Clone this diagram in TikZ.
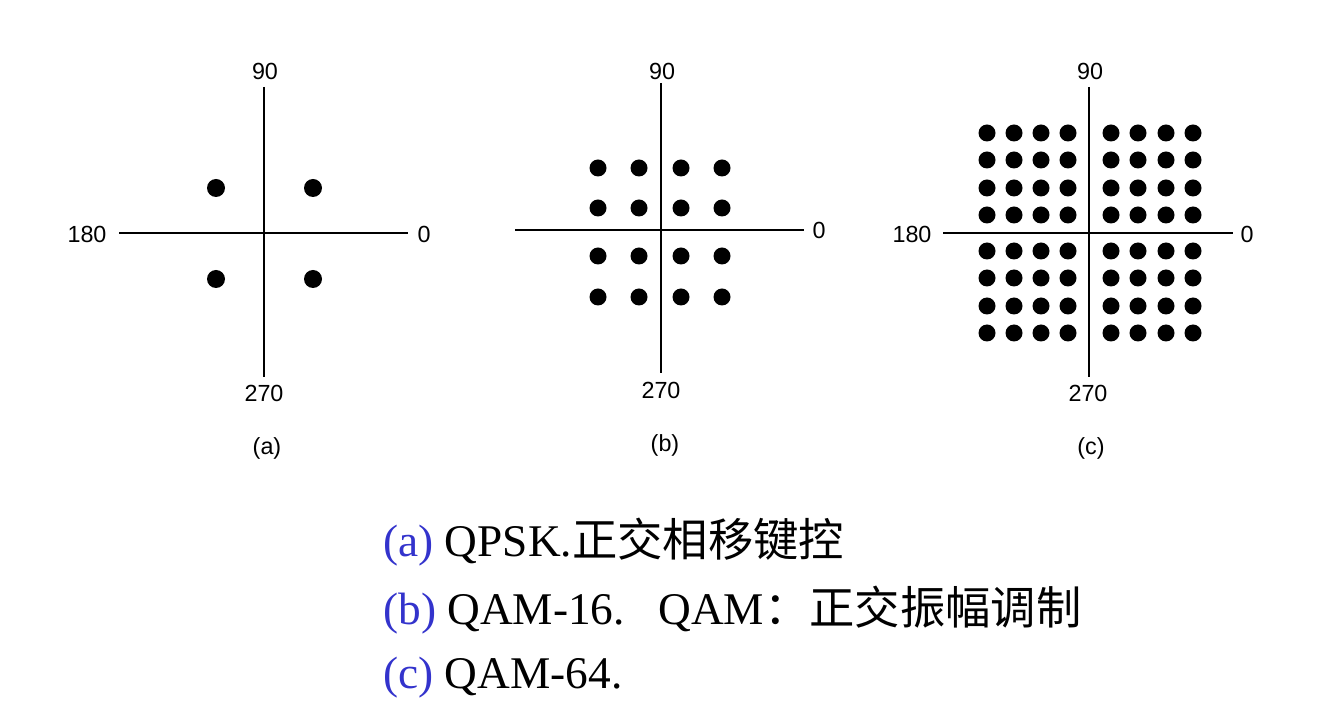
\documentclass[tikz,border=0pt]{standalone}
\usepackage{fontspec}
\setmainfont{Liberation Serif}
\newfontfamily\lblfont{Liberation Sans}
\newfontfamily\cjkfont{Noto Sans CJK SC}
\definecolor{capblue}{RGB}{51,51,204}
\begin{document}
\begin{tikzpicture}[x=0.75pt,y=-0.75pt,
  axis/.style={line width=1.5pt},
  dot/.style={fill=black},
  lbl/.style={font=\lblfont\fontsize{17.5}{20}\selectfont, inner sep=0pt},
  captext/.style={font=\fontsize{34}{40}\selectfont, anchor=base west, inner sep=0pt}]
\useasboundingbox (0,0) rectangle (1318,705);
% ---------- (a) ----------
\coordinate (aT) at (264,87); \coordinate (aB) at (264,377);
\coordinate (aL) at (119,233); \coordinate (aR) at (408,233);
\draw[axis] (aT) -- (aB);
\draw[axis] (aL) -- (aR);
\node[lbl] (a90) at (265,71) {90};
\node[lbl] (a180) at (87,234) {180};
\node[lbl] (a0) at (424,234) {0};
\node[lbl] (a270) at (264,393) {270};
\node[lbl] (acap) at (267,448) {(a)};
\foreach \x in {216,313} \foreach \y in {188,279} \fill[dot] (\x,\y) circle[radius=9];
% ---------- (b) ----------
\coordinate (bT) at (661,83); \coordinate (bB) at (661,373);
\coordinate (bL) at (515,230); \coordinate (bR) at (804,230);
\draw[axis] (bT) -- (bB);
\draw[axis] (bL) -- (bR);
\node[lbl] (b90) at (662,71) {90};
\node[lbl] (b0) at (819,230) {0};
\node[lbl] (b270) at (661,390) {270};
\node[lbl] (bcap) at (665,445) {(b)};
\foreach \x in {598,639,681,722} \foreach \y in {168,208,256,297} \fill[dot] (\x,\y) circle[radius=8.5];
% ---------- (c) ----------
\coordinate (cT) at (1089,87); \coordinate (cB) at (1089,377);
\coordinate (cL) at (943,233); \coordinate (cR) at (1233,233);
\draw[axis] (cT) -- (cB);
\draw[axis] (cL) -- (cR);
\node[lbl] (c90) at (1090,71) {90};
\node[lbl] (c180) at (912,234) {180};
\node[lbl] (c0) at (1247,234) {0};
\node[lbl] (c270) at (1088,393) {270};
\node[lbl] (ccap) at (1091,448) {(c)};
\foreach \x in {987,1014,1041,1068,1111,1138,1166,1193}
  \foreach \y in {133,160,188,215,251,278,306,333}
    \fill[dot] (\x,\y) circle[radius=8.5];
% ---------- captions ----------
\node[captext] (l1) at (383,557) {\textcolor{capblue}{(a)} QPSK.{\cjkfont 正交相移键控}};
\node[captext] (l2) at (383,624) {\textcolor{capblue}{(b)} QAM-16.\hspace{25pt}QAM{\cjkfont ：正交振幅调制}};
\node[captext] (l3) at (383,689) {\textcolor{capblue}{(c)} QAM-64.};
\end{tikzpicture}
\end{document}
